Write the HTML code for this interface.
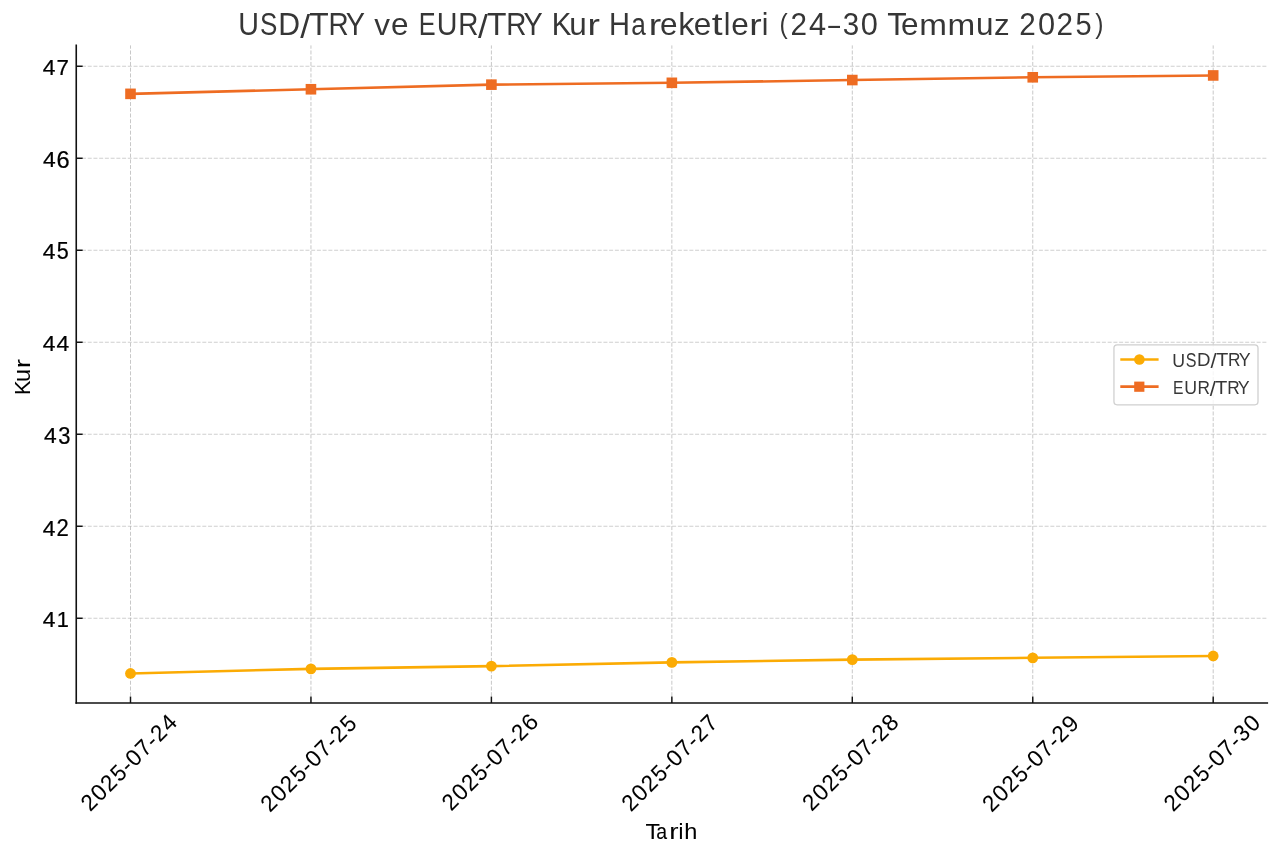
<!DOCTYPE html><html><head><meta charset="utf-8"><title>USD/TRY ve EUR/TRY Kur Hareketleri</title><style>html,body{margin:0;padding:0;background:#fff;overflow:hidden;}svg{display:block;}text{font-family:"Liberation Sans",sans-serif;}</style></head><body>
<svg style="will-change:transform" width="1280" height="857" viewBox="0 0 1280 857">
<rect width="1280" height="857" fill="#fff"/>
<g stroke="#b0b0b0" stroke-opacity="0.7" stroke-width="1.0" stroke-dasharray="4 1.73" stroke-dashoffset="-1" fill="none"><line x1="130.50" y1="702.95" x2="130.50" y2="45.40"/><line x1="310.95" y1="702.95" x2="310.95" y2="45.40"/><line x1="491.40" y1="702.95" x2="491.40" y2="45.40"/><line x1="671.85" y1="702.95" x2="671.85" y2="45.40"/><line x1="852.30" y1="702.95" x2="852.30" y2="45.40"/><line x1="1032.75" y1="702.95" x2="1032.75" y2="45.40"/><line x1="1213.20" y1="702.95" x2="1213.20" y2="45.40"/></g>
<g stroke="#b0b0b0" stroke-opacity="0.6" stroke-width="1.0" stroke-dasharray="4 1.73" fill="none"><line x1="76.25" y1="618.25" x2="1267.30" y2="618.25"/><line x1="76.25" y1="526.25" x2="1267.30" y2="526.25"/><line x1="76.25" y1="434.25" x2="1267.30" y2="434.25"/><line x1="76.25" y1="342.25" x2="1267.30" y2="342.25"/><line x1="76.25" y1="250.25" x2="1267.30" y2="250.25"/><line x1="76.25" y1="158.25" x2="1267.30" y2="158.25"/><line x1="76.25" y1="66.25" x2="1267.30" y2="66.25"/></g>
<g stroke="#111" stroke-width="1.6" fill="none" stroke-linecap="square">
<line x1="76.25" y1="45.40" x2="76.25" y2="702.95"/>
<line x1="76.25" y1="702.95" x2="1267.30" y2="702.95"/>
</g>
<g stroke="#111" stroke-width="1.45"><line x1="130.50" y1="702.95" x2="130.50" y2="696.55"/><line x1="310.95" y1="702.95" x2="310.95" y2="696.55"/><line x1="491.40" y1="702.95" x2="491.40" y2="696.55"/><line x1="671.85" y1="702.95" x2="671.85" y2="696.55"/><line x1="852.30" y1="702.95" x2="852.30" y2="696.55"/><line x1="1032.75" y1="702.95" x2="1032.75" y2="696.55"/><line x1="1213.20" y1="702.95" x2="1213.20" y2="696.55"/><line x1="76.25" y1="618.25" x2="82.65" y2="618.25"/><line x1="76.25" y1="526.25" x2="82.65" y2="526.25"/><line x1="76.25" y1="434.25" x2="82.65" y2="434.25"/><line x1="76.25" y1="342.25" x2="82.65" y2="342.25"/><line x1="76.25" y1="250.25" x2="82.65" y2="250.25"/><line x1="76.25" y1="158.25" x2="82.65" y2="158.25"/><line x1="76.25" y1="66.25" x2="82.65" y2="66.25"/></g>
<polyline points="130.50,673.45 310.95,668.85 491.40,666.09 671.85,662.41 852.30,659.65 1032.75,657.81 1213.20,655.97" fill="none" stroke="#FBAB04" stroke-width="2.6" stroke-linejoin="round" stroke-linecap="round"/>
<polyline points="130.50,93.85 310.95,89.25 491.40,84.65 671.85,82.81 852.30,80.05 1032.75,77.29 1213.20,75.45" fill="none" stroke="#EE6C22" stroke-width="2.6" stroke-linejoin="round" stroke-linecap="round"/>
<circle cx="130.50" cy="673.45" r="5.4" fill="#FBAB04"/>
<circle cx="310.95" cy="668.85" r="5.4" fill="#FBAB04"/>
<circle cx="491.40" cy="666.09" r="5.4" fill="#FBAB04"/>
<circle cx="671.85" cy="662.41" r="5.4" fill="#FBAB04"/>
<circle cx="852.30" cy="659.65" r="5.4" fill="#FBAB04"/>
<circle cx="1032.75" cy="657.81" r="5.4" fill="#FBAB04"/>
<circle cx="1213.20" cy="655.97" r="5.4" fill="#FBAB04"/>
<rect x="125.20" y="88.55" width="10.6" height="10.6" fill="#EE6C22"/>
<rect x="305.65" y="83.95" width="10.6" height="10.6" fill="#EE6C22"/>
<rect x="486.10" y="79.35" width="10.6" height="10.6" fill="#EE6C22"/>
<rect x="666.55" y="77.51" width="10.6" height="10.6" fill="#EE6C22"/>
<rect x="847.00" y="74.75" width="10.6" height="10.6" fill="#EE6C22"/>
<rect x="1027.45" y="71.99" width="10.6" height="10.6" fill="#EE6C22"/>
<rect x="1207.90" y="70.15" width="10.6" height="10.6" fill="#EE6C22"/>
<rect x="1113.95" y="344.8" width="144.05" height="60" rx="3.2" ry="3.2" fill="#fff" fill-opacity="0.8" stroke="#d0d0d0" stroke-width="1.3"/>
<line x1="1120.3" y1="359.5" x2="1158.6" y2="359.5" stroke="#FBAB04" stroke-width="2.6"/>
<circle cx="1139.4" cy="359.5" r="5.3" fill="#FBAB04"/>
<line x1="1120.3" y1="386.6" x2="1158.6" y2="386.6" stroke="#EE6C22" stroke-width="2.6"/>
<rect x="1134.2" y="381.6" width="10.2" height="10.2" fill="#EE6C22"/>
<g font-size="30.93" fill="#363636" transform="translate(671.15 26.15) rotate(0) translate(-433.21 9.16)"><text transform="matrix(0.9272 0 0 1.0050 0.32 0.11)">U</text><text transform="matrix(0.8409 0 0 1.0079 22.10 0.11)">S</text><text transform="matrix(0.9761 0 0 0.9997 40.27 0.00)">D</text><text transform="matrix(1.1439 0 0 1.0558 62.35 2.39)">/</text><text transform="matrix(1.0290 0 0 0.9997 71.38 0.00)">T</text><text transform="matrix(0.9024 0 0 0.9997 90.58 0.00)">R</text><text transform="matrix(0.9310 0 0 0.9997 107.73 0.00)">Y</text><text transform="matrix(1.0180 0 0 0.9765 136.28 0.00)">v</text><text transform="matrix(1.0191 0 0 0.9888 153.06 0.12)">e</text><text transform="matrix(0.8175 0 0 0.9997 180.81 0.00)">E</text><text transform="matrix(0.9272 0 0 1.0050 198.78 0.11)">U</text><text transform="matrix(0.9024 0 0 0.9997 220.38 0.00)">R</text><text transform="matrix(1.1439 0 0 1.0558 240.09 2.39)">/</text><text transform="matrix(1.0290 0 0 0.9997 249.12 0.00)">T</text><text transform="matrix(0.9024 0 0 0.9997 268.31 0.00)">R</text><text transform="matrix(0.9310 0 0 0.9997 285.46 0.00)">Y</text><text transform="matrix(0.9514 0 0 0.9997 313.71 0.00)">K</text><text transform="matrix(1.0170 0 0 1.0067 331.37 0.11)">u</text><text transform="matrix(1.2087 0 0 0.9818 349.59 0.00)">r</text><text transform="matrix(0.9384 0 0 0.9997 371.18 0.00)">H</text><text transform="matrix(0.8486 0 0 0.9888 393.28 0.12)">a</text><text transform="matrix(1.2087 0 0 0.9818 410.69 0.00)">r</text><text transform="matrix(1.0191 0 0 0.9888 422.13 0.12)">e</text><text transform="matrix(1.0551 0 0 0.9893 440.26 0.00)">k</text><text transform="matrix(1.0191 0 0 0.9888 455.93 0.12)">e</text><text transform="matrix(1.2607 0 0 1.0124 473.80 -0.24)">t</text><text transform="matrix(0.9644 0 0 0.9893 485.79 0.00)">l</text><text transform="matrix(1.0191 0 0 0.9888 493.43 0.12)">e</text><text transform="matrix(1.2087 0 0 0.9818 511.27 0.00)">r</text><text transform="matrix(0.9644 0 0 0.9893 523.86 0.00)">i</text><text transform="matrix(0.7972 0 0 0.9019 541.47 -1.93)">(</text><text transform="matrix(0.9584 0 0 1.0028 552.52 0.00)">2</text><text transform="matrix(0.9946 0 0 0.9997 571.16 0.00)">4</text><text transform="matrix(0.6831 0 0 0.9916 590.43 -0.21)">–</text><text transform="matrix(0.9548 0 0 1.0079 604.69 0.11)">3</text><text transform="matrix(0.9945 0 0 1.0079 622.88 0.11)">0</text><text transform="matrix(1.0290 0 0 0.9997 649.20 0.00)">T</text><text transform="matrix(1.0191 0 0 0.9888 663.13 0.12)">e</text><text transform="matrix(1.0750 0 0 0.9818 681.26 0.00)">m</text><text transform="matrix(1.0750 0 0 0.9818 709.68 0.00)">m</text><text transform="matrix(1.0170 0 0 1.0067 738.10 0.11)">u</text><text transform="matrix(1.0107 0 0 0.9765 756.14 0.00)">z</text><text transform="matrix(0.9584 0 0 1.0028 781.40 0.00)">2</text><text transform="matrix(0.9945 0 0 1.0079 800.04 0.11)">0</text><text transform="matrix(0.9584 0 0 1.0028 818.53 0.00)">2</text><text transform="matrix(0.9386 0 0 1.0050 837.54 0.11)">5</text><text transform="matrix(0.7972 0 0 0.9019 857.21 -1.93)">)</text></g>
<g font-size="22.97" fill="#000" stroke="#000" stroke-width="0.24" transform="translate(55.50 618.60) rotate(0) translate(-13.32 7.90)"><text transform="matrix(0.9946 0 0 0.9997 0.54 0.00)">4</text><text transform="matrix(0.9498 0 0 0.9997 14.51 0.00)">1</text></g>
<g font-size="22.97" fill="#000" stroke="#000" stroke-width="0.24" transform="translate(55.50 527.60) rotate(0) translate(-13.23 8.04)"><text transform="matrix(0.9946 0 0 0.9997 0.54 0.00)">4</text><text transform="matrix(0.9584 0 0 1.0028 14.27 0.00)">2</text></g>
<g font-size="22.97" fill="#000" stroke="#000" stroke-width="0.24" transform="translate(57.00 435.60) rotate(0) translate(-13.45 7.89)"><text transform="matrix(0.9946 0 0 0.9997 0.54 0.00)">4</text><text transform="matrix(0.9548 0 0 1.0079 14.60 0.08)">3</text></g>
<g font-size="22.97" fill="#000" stroke="#000" stroke-width="0.24" transform="translate(56.00 342.60) rotate(0) translate(-13.71 7.90)"><text transform="matrix(0.9946 0 0 0.9997 0.54 0.00)">4</text><text transform="matrix(0.9946 0 0 0.9997 14.32 0.00)">4</text></g>
<g font-size="22.97" fill="#000" stroke="#000" stroke-width="0.24" transform="translate(55.50 251.60) rotate(0) translate(-13.37 7.75)"><text transform="matrix(0.9946 0 0 0.9997 0.54 0.00)">4</text><text transform="matrix(0.9386 0 0 1.0050 14.60 0.08)">5</text></g>
<g font-size="22.97" fill="#000" stroke="#000" stroke-width="0.24" transform="translate(56.00 159.60) rotate(0) translate(-13.63 7.89)"><text transform="matrix(0.9946 0 0 0.9997 0.54 0.00)">4</text><text transform="matrix(1.0293 0 0 1.0079 14.10 0.08)">6</text></g>
<g font-size="22.97" fill="#000" stroke="#000" stroke-width="0.24" transform="translate(55.50 66.60) rotate(0) translate(-13.39 7.90)"><text transform="matrix(0.9946 0 0 0.9997 0.54 0.00)">4</text><text transform="matrix(0.9728 0 0 0.9997 14.42 0.00)">7</text></g>
<g font-size="22.97" fill="#000" stroke="#000" stroke-width="0.05" transform="translate(128.90 762.30) rotate(-45) translate(-63.15 7.89)"><text transform="matrix(0.9584 0 0 1.0028 0.48 0.00)">2</text><text transform="matrix(0.9945 0 0 1.0079 14.32 0.08)">0</text><text transform="matrix(0.9584 0 0 1.0028 28.06 0.00)">2</text><text transform="matrix(0.9386 0 0 1.0050 42.17 0.08)">5</text><text transform="matrix(1.0168 0 0 0.9660 55.17 -0.04)">-</text><text transform="matrix(0.9945 0 0 1.0079 63.50 0.08)">0</text><text transform="matrix(0.9728 0 0 0.9997 77.39 0.00)">7</text><text transform="matrix(1.0168 0 0 0.9660 90.56 -0.04)">-</text><text transform="matrix(0.9584 0 0 1.0028 98.84 0.00)">2</text><text transform="matrix(0.9946 0 0 0.9997 112.68 0.00)">4</text></g>
<g font-size="22.97" fill="#000" stroke="#000" stroke-width="0.05" transform="translate(308.40 763.30) rotate(-45) translate(-62.82 7.89)"><text transform="matrix(0.9584 0 0 1.0028 0.48 0.00)">2</text><text transform="matrix(0.9945 0 0 1.0079 14.32 0.08)">0</text><text transform="matrix(0.9584 0 0 1.0028 28.06 0.00)">2</text><text transform="matrix(0.9386 0 0 1.0050 42.17 0.08)">5</text><text transform="matrix(1.0168 0 0 0.9660 55.17 -0.04)">-</text><text transform="matrix(0.9945 0 0 1.0079 63.50 0.08)">0</text><text transform="matrix(0.9728 0 0 0.9997 77.39 0.00)">7</text><text transform="matrix(1.0168 0 0 0.9660 90.56 -0.04)">-</text><text transform="matrix(0.9584 0 0 1.0028 98.84 0.00)">2</text><text transform="matrix(0.9386 0 0 1.0050 112.96 0.08)">5</text></g>
<g font-size="22.97" fill="#000" stroke="#000" stroke-width="0.05" transform="translate(489.90 761.80) rotate(-45) translate(-63.08 7.89)"><text transform="matrix(0.9584 0 0 1.0028 0.48 0.00)">2</text><text transform="matrix(0.9945 0 0 1.0079 14.32 0.08)">0</text><text transform="matrix(0.9584 0 0 1.0028 28.06 0.00)">2</text><text transform="matrix(0.9386 0 0 1.0050 42.17 0.08)">5</text><text transform="matrix(1.0168 0 0 0.9660 55.17 -0.04)">-</text><text transform="matrix(0.9945 0 0 1.0079 63.50 0.08)">0</text><text transform="matrix(0.9728 0 0 0.9997 77.39 0.00)">7</text><text transform="matrix(1.0168 0 0 0.9660 90.56 -0.04)">-</text><text transform="matrix(0.9584 0 0 1.0028 98.84 0.00)">2</text><text transform="matrix(1.0293 0 0 1.0079 112.46 0.08)">6</text></g>
<g font-size="22.97" fill="#000" stroke="#000" stroke-width="0.05" transform="translate(669.40 762.80) rotate(-45) translate(-62.84 7.89)"><text transform="matrix(0.9584 0 0 1.0028 0.48 0.00)">2</text><text transform="matrix(0.9945 0 0 1.0079 14.32 0.08)">0</text><text transform="matrix(0.9584 0 0 1.0028 28.06 0.00)">2</text><text transform="matrix(0.9386 0 0 1.0050 42.17 0.08)">5</text><text transform="matrix(1.0168 0 0 0.9660 55.17 -0.04)">-</text><text transform="matrix(0.9945 0 0 1.0079 63.50 0.08)">0</text><text transform="matrix(0.9728 0 0 0.9997 77.39 0.00)">7</text><text transform="matrix(1.0168 0 0 0.9660 90.56 -0.04)">-</text><text transform="matrix(0.9584 0 0 1.0028 98.84 0.00)">2</text><text transform="matrix(0.9728 0 0 0.9997 112.78 0.00)">7</text></g>
<g font-size="22.97" fill="#000" stroke="#000" stroke-width="0.05" transform="translate(850.40 762.30) rotate(-45) translate(-63.02 7.89)"><text transform="matrix(0.9584 0 0 1.0028 0.48 0.00)">2</text><text transform="matrix(0.9945 0 0 1.0079 14.32 0.08)">0</text><text transform="matrix(0.9584 0 0 1.0028 28.06 0.00)">2</text><text transform="matrix(0.9386 0 0 1.0050 42.17 0.08)">5</text><text transform="matrix(1.0168 0 0 0.9660 55.17 -0.04)">-</text><text transform="matrix(0.9945 0 0 1.0079 63.50 0.08)">0</text><text transform="matrix(0.9728 0 0 0.9997 77.39 0.00)">7</text><text transform="matrix(1.0168 0 0 0.9660 90.56 -0.04)">-</text><text transform="matrix(0.9584 0 0 1.0028 98.84 0.00)">2</text><text transform="matrix(1.0052 0 0 1.0079 112.61 0.08)">8</text></g>
<g font-size="22.97" fill="#000" stroke="#000" stroke-width="0.05" transform="translate(1030.40 763.30) rotate(-45) translate(-63.00 7.89)"><text transform="matrix(0.9584 0 0 1.0028 0.48 0.00)">2</text><text transform="matrix(0.9945 0 0 1.0079 14.32 0.08)">0</text><text transform="matrix(0.9584 0 0 1.0028 28.06 0.00)">2</text><text transform="matrix(0.9386 0 0 1.0050 42.17 0.08)">5</text><text transform="matrix(1.0168 0 0 0.9660 55.17 -0.04)">-</text><text transform="matrix(0.9945 0 0 1.0079 63.50 0.08)">0</text><text transform="matrix(0.9728 0 0 0.9997 77.39 0.00)">7</text><text transform="matrix(1.0168 0 0 0.9660 90.56 -0.04)">-</text><text transform="matrix(0.9584 0 0 1.0028 98.84 0.00)">2</text><text transform="matrix(1.0272 0 0 1.0079 112.41 0.08)">9</text></g>
<g font-size="22.97" fill="#000" stroke="#000" stroke-width="0.05" transform="translate(1211.90 762.80) rotate(-45) translate(-63.04 7.89)"><text transform="matrix(0.9584 0 0 1.0028 0.48 0.00)">2</text><text transform="matrix(0.9945 0 0 1.0079 14.32 0.08)">0</text><text transform="matrix(0.9584 0 0 1.0028 28.06 0.00)">2</text><text transform="matrix(0.9386 0 0 1.0050 42.17 0.08)">5</text><text transform="matrix(1.0168 0 0 0.9660 55.17 -0.04)">-</text><text transform="matrix(0.9945 0 0 1.0079 63.50 0.08)">0</text><text transform="matrix(0.9728 0 0 0.9997 77.39 0.00)">7</text><text transform="matrix(1.0168 0 0 0.9660 90.56 -0.04)">-</text><text transform="matrix(0.9548 0 0 1.0079 99.18 0.08)">3</text><text transform="matrix(0.9945 0 0 1.0079 112.69 0.08)">0</text></g>
<g font-size="22.97" fill="#000" stroke="#000" stroke-width="0.06" transform="translate(671.00 831.30) rotate(0) translate(-24.85 8.08)"><text transform="matrix(1.0290 0 0 0.9997 -0.60 0.00)">T</text><text transform="matrix(0.8486 0 0 0.9888 10.13 0.09)">a</text><text transform="matrix(1.2087 0 0 0.9818 23.06 0.00)">r</text><text transform="matrix(0.9644 0 0 0.9893 32.41 0.00)">i</text><text transform="matrix(1.0245 0 0 0.9893 38.21 0.00)">h</text></g>
<g font-size="22.97" fill="#000" stroke="#000" stroke-width="0.03" transform="translate(22.60 376.40) rotate(-90) translate(-18.95 7.75)"><text transform="matrix(0.9514 0 0 0.9997 0.33 0.00)">K</text><text transform="matrix(1.0170 0 0 1.0067 13.45 0.08)">u</text><text transform="matrix(1.2087 0 0 0.9818 26.98 0.00)">r</text></g>
<g font-size="19.14" fill="#373737" transform="translate(1211.90 360.60) rotate(0) translate(-39.87 5.86)"><text transform="matrix(0.9272 0 0 1.0050 0.20 0.07)">U</text><text transform="matrix(0.8409 0 0 1.0079 13.68 0.07)">S</text><text transform="matrix(0.9761 0 0 0.9997 24.92 0.00)">D</text><text transform="matrix(1.1439 0 0 1.0558 38.59 1.48)">/</text><text transform="matrix(1.0290 0 0 0.9997 44.18 0.00)">T</text><text transform="matrix(0.9024 0 0 0.9997 56.06 0.00)">R</text><text transform="matrix(0.9310 0 0 0.9997 66.67 0.00)">Y</text></g>
<g font-size="19.14" fill="#373737" transform="translate(1211.80 388.30) rotate(0) translate(-39.27 5.75)"><text transform="matrix(0.8175 0 0 0.9997 0.49 0.00)">E</text><text transform="matrix(0.9272 0 0 1.0050 11.61 0.07)">U</text><text transform="matrix(0.9024 0 0 0.9997 24.98 0.00)">R</text><text transform="matrix(1.1439 0 0 1.0558 37.18 1.48)">/</text><text transform="matrix(1.0290 0 0 0.9997 42.77 0.00)">T</text><text transform="matrix(0.9024 0 0 0.9997 54.65 0.00)">R</text><text transform="matrix(0.9310 0 0 0.9997 65.26 0.00)">Y</text></g>
</svg></body></html>
